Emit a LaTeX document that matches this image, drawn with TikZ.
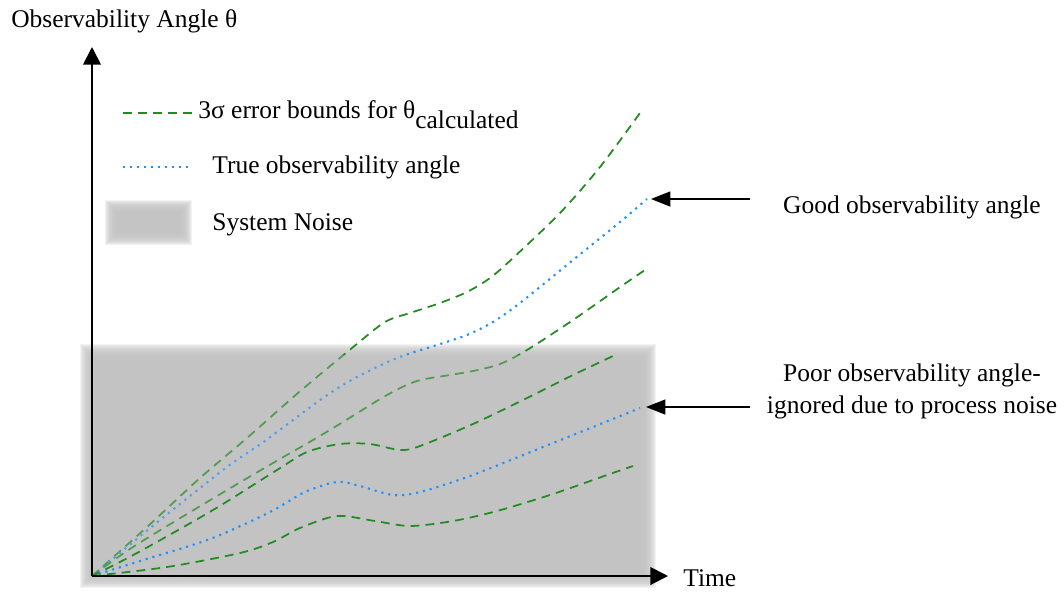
\documentclass[tikz,border=0pt]{standalone}
\usepackage{fontspec}
\setmainfont{Liberation Serif}
\usepackage{tikz}
\usetikzlibrary{arrows.meta}
\definecolor{boundgreen}{RGB}{34,139,34}
\definecolor{trueblue}{RGB}{30,144,255}
\definecolor{noisegray}{RGB}{194,194,194}
\tikzset{
  bound/.style={boundgreen, line width=1pt, dash pattern=on 5pt off 3.5pt},
  truth/.style={trueblue, line width=1.2pt, dash pattern=on 1.2pt off 2.8pt},
  axis/.style={line width=1.1pt, -{Triangle[length=10pt,width=10pt]}},
  pointer/.style={line width=0.9pt, -{Triangle[length=11pt,width=8.5pt]}},
  label/.style={inner sep=0pt, font=\fontsize{14.5}{18.2}\selectfont}
}

\begin{document}
\begin{tikzpicture}[x=0.02cm, y=-0.02cm]
		%\draw [help lines, step=50] (0,0) grid (1064,592);
		\useasboundingbox (0,0) rectangle (1064,592);
		\coordinate (O) at (92,576);
		\coordinate (ytip) at (92,47);
		\coordinate (xtip) at (668,576);

		% system noise
		\foreach \r in {-7,...,7}
			\fill [noisegray, opacity=0.2] (87-\r,351-\r) rectangle (649+\r,581+\r);

		% good observability
		\draw [bound] plot [smooth] coordinates {(92,576) (147,527) (200,478) (247,438) (298,393) (352,348) (385,322) (410,313) (440,303) (467,292) (490,278) (513,258) (560,213) (600,167) (640,113)};
		\draw [truth] plot [smooth] coordinates {(92,576) (160,520) (227,467) (262,443) (323,398) (357,377) (397,358) (437,345) (467,335) (493,322) (520,303) (573,260) (620,222) (647,199)};
		\draw [bound] plot [smooth] coordinates {(92,576) (133,547) (207,502) (273,463) (313,440) (343,422) (387,395) (417,381) (450,375) (473,371) (500,364) (527,350) (573,320) (623,285) (645,270)};
		\fill [noisegray, opacity=0.3] (90,355) rectangle (646,578);

		% poor observability
		\draw [bound] plot [smooth] coordinates {(92,576) (137,553) (213,510) (277,470) (307,452) (340,444) (370,444) (400,450) (420,446) (473,424) (527,398) (573,375) (613,356)};
		\draw [truth] plot [smooth] coordinates {(92,576) (140,561) (210,539) (270,512) (305,492) (337,482) (360,486) (393,495) (420,492) (470,476) (543,447) (593,427) (640,408)};
		\draw [bound] plot [smooth] coordinates {(92,576) (167,567) (240,553) (273,542) (300,528) (337,516) (375,521) (410,526) (453,521) (497,511) (553,494) (607,475) (633,466)};

		% axes
		\draw [axis] (O) -- (ytip);
		\draw [axis] (O) -- (xtip);
		\node [label, anchor=base west] (ylab) at (11,27) {Observability Angle θ};
		\node [label, anchor=base west] (xlab) at (683,586) {Time};

		% legend
		\coordinate (boundA) at (123,113);
		\coordinate (boundB) at (196,113);
		\draw [bound] (boundA) -- (boundB);
		\node [label, anchor=base west] (boundlab) at (198,118) {3σ error bounds for θ\raisebox{-0.42em}{calculated}};
		\coordinate (truthA) at (123,167);
		\coordinate (truthB) at (191,167);
		\draw [truth] (truthA) -- (truthB);
		\node [label, anchor=base west] (truthlab) at (212,173) {True observability angle};
		\foreach \r in {-7,...,5}
			\fill [noisegray, opacity=0.22] (110-\r,205-\r) rectangle (187+\r,240+\r);
		\node [label, anchor=base west] (noiselab) at (212,230) {System Noise};

		% annotations
		\node [label, anchor=base] (goodlab) at (912,213) {Good observability angle};
		\node [label, align=center, anchor=base] (poorlab) at (912,413) {Poor observability angle-\\ignored due to process noise};
		\coordinate (goodtip) at (651,199);
		\coordinate (goodtail) at (750,199);
		\coordinate (poortip) at (646,407);
		\coordinate (poortail) at (750,407);
		\draw [pointer] (goodtail) -- (goodtip);
		\draw [pointer] (poortail) -- (poortip);
\end{tikzpicture}
\end{document}
